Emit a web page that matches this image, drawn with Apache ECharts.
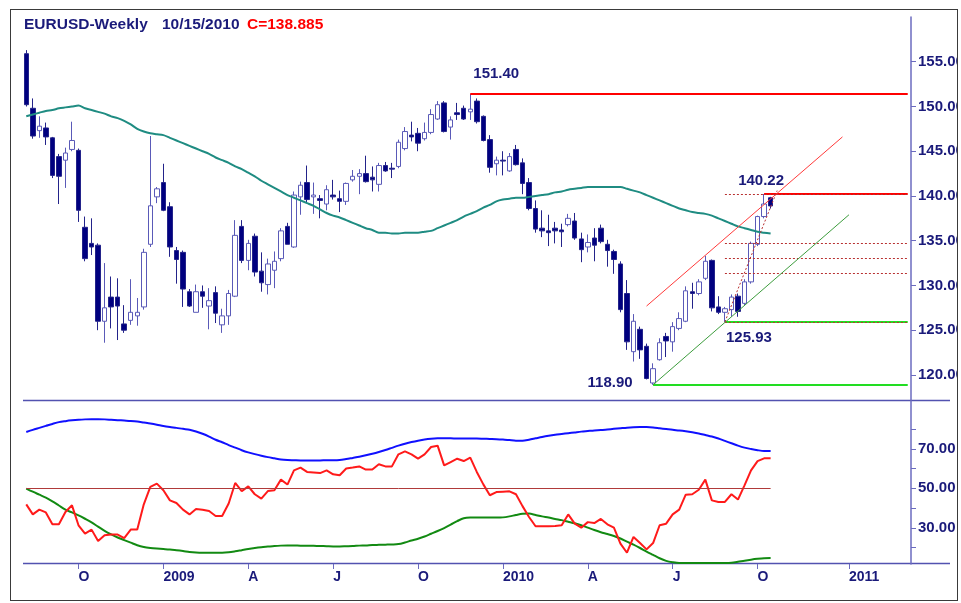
<!DOCTYPE html>
<html>
<head>
<meta charset="utf-8">
<script src="https://cdn.jsdelivr.net/npm/echarts@6/dist/echarts.min.js"></script>
<style>
  html, body { margin: 0; padding: 0; background: #fff; }
  #chart { position: absolute; left: 10px; top: 9px; width: 946px; height: 590px; border: 1px solid #3a3a3a; }
</style>
</head>
<body>
<div id="chart"></div>
<script>
// weekly bars, first one is the week ending 2008-08-08
const FIRST_WEEK = '2008-08-08';
const N_WEEKS = 136; // 115 bars + empty weeks up to the right axis

const OPEN = [155.9,149.8,147.3,147.6,146.5,144.4,144.0,145.2,145.1,136.5,134.7,134.5,126.0,128.7,128.7,125.7,126.1,126.6,127.6,134.6,
  139.9,141.5,138.8,133.9,133.7,129.3,127.0,129.3,127.7,129.2,125.6,126.6,128.8,136.6,132.8,135.5,131.6,130.1,131.7,133.0,
  136.6,134.3,139.9,141.5,139.9,139.7,139.1,140.1,139.7,139.4,141.8,142.2,142.5,142.1,141.3,143.4,143.1,143.3,145.3,146.8,
  147.0,146.4,147.1,148.6,150.4,147.7,149.3,149.8,149.4,150.6,148.9,146.3,143.6,144.0,142.8,145.2,143.7,141.5,138.6,136.4,
  136.1,136.4,136.2,136.8,137.2,135.2,134.3,135.3,136.4,134.6,133.8,132.4,129.1,122.6,125.1,123.2,119.1,121.7,124.3,123.7,
  125.2,126.0,129.3,129.1,130.8,132.8,127.6,127.0,127.3,128.8,128.0,130.4,134.6,137.7,139.8];
const HIGH = [156.3,150.9,148.9,148.2,146.6,144.7,145.4,148.3,145.3,137.7,137.5,134.7,132.5,131.0,130.8,127.8,130.7,128.6,134.1,146.7,
  141.0,143.6,139.3,134.3,133.9,129.6,130.1,130.0,129.7,129.9,127.4,129.5,137.3,137.3,135.1,135.8,133.7,133.0,133.8,136.4,
  137.0,140.5,141.6,143.4,141.5,140.1,141.2,141.8,140.6,141.5,142.9,143.0,144.5,143.3,143.7,143.8,143.7,146.3,147.7,148.3,
  147.6,148.2,149.7,150.6,150.6,148.9,150.4,150.1,151.4,150.9,149.0,146.8,144.4,145.0,144.8,145.7,144.2,142.0,139.5,138.4,
  137.9,137.1,136.9,138.0,138.1,135.9,135.7,136.4,136.8,135.1,134.0,132.7,130.6,126.8,125.4,123.5,121.3,124.1,124.7,125.9,
  127.0,129.9,130.3,130.7,133.3,132.9,128.8,127.6,129.0,129.1,130.7,134.9,137.8,140.22,139.9];
const LOW = [150.0,146.4,146.5,145.7,142.0,139.1,140.9,145.0,137.1,132.7,133.4,125.0,123.6,125.2,123.9,124.7,125.6,125.5,127.3,134.3,
  139.2,138.3,133.2,130.2,127.6,127.6,127.0,127.5,125.1,125.8,124.7,125.6,128.7,132.5,131.7,131.0,129.3,129.0,129.7,132.7,
  134.6,134.2,137.9,139.3,138.0,137.5,138.4,139.6,138.2,139.0,141.6,140.2,141.5,140.5,140.5,142.7,142.0,143.1,145.1,146.1,
  145.0,146.2,146.9,148.5,147.1,146.3,148.5,148.5,148.5,148.1,146.1,142.6,142.3,142.3,142.7,143.4,140.2,138.4,135.9,135.4,
  134.4,134.7,134.3,136.6,135.1,132.6,133.7,132.7,134.7,132.1,131.3,127.0,122.8,121.5,121.8,119.5,118.9,121.6,122.0,122.6,
  125.0,125.9,127.4,128.9,130.6,127.1,126.8,125.93,126.5,126.5,127.8,130.2,134.4,137.5,138.6];
const CLOSE = [150.2,146.7,147.8,146.6,142.3,142.2,144.8,146.2,138.4,133.0,134.3,126.0,127.5,127.6,127.7,125.0,127.0,127.0,133.7,138.9,
  140.8,138.4,134.3,132.9,129.6,127.7,129.3,128.8,128.3,126.9,126.6,129.1,135.6,132.8,134.7,131.5,130.3,132.4,132.7,136.1,
  134.6,140.1,141.2,139.6,140.1,139.5,140.7,139.9,139.4,141.4,142.2,142.5,141.6,141.8,143.4,142.8,143.0,146.0,147.2,146.6,
  145.9,147.1,149.1,150.2,147.2,148.5,149.1,148.6,149.7,148.3,146.2,143.2,144.0,143.9,144.4,143.5,141.4,138.6,136.3,136.1,
  135.9,136.1,136.0,137.5,135.3,134.0,134.8,134.5,134.9,133.9,132.9,127.3,123.7,126.0,122.8,119.6,120.7,123.6,123.8,125.4,
  126.3,129.4,129.1,130.4,132.7,127.5,127.0,127.4,128.7,127.1,130.4,134.7,137.7,139.1,138.885];

// moving average drawn over the price
const MA = [148.9,149.1,149.3,149.5,149.6,149.8,149.9,150.0,150.1,149.8,149.6,149.4,149.2,148.9,148.7,148.4,148.0,147.5,147.2,147.0,
  146.9,146.8,146.5,146.2,145.9,145.6,145.3,145.0,144.7,144.3,144.0,143.7,143.3,143.0,142.6,142.2,141.7,141.3,140.9,140.5,
  140.1,139.8,139.5,139.2,138.9,138.5,138.1,137.8,137.6,137.3,137.0,136.7,136.4,136.2,135.9,135.9,135.8,135.8,135.9,135.9,
  135.9,136.0,136.1,136.4,136.7,137.0,137.3,137.7,138.0,138.3,138.7,139.0,139.4,139.6,139.7,139.8,139.8,139.9,140.0,140.1,
  140.2,140.4,140.5,140.7,140.8,140.9,141.0,141.0,141.0,141.0,141.0,141.0,140.8,140.6,140.4,140.1,139.8,139.5,139.2,138.9,
  138.6,138.4,138.2,138.1,138.0,137.8,137.5,137.2,136.9,136.6,136.4,136.2,136.0,135.9,135.8];

// lower panel
const BLUE = [78.5,79.6,80.6,81.6,82.6,83.5,84.0,84.4,84.7,84.9,85.0,85.0,84.9,84.7,84.5,84.3,84.1,83.8,83.3,82.8,
  82.2,81.5,81.0,80.6,80.1,79.7,78.8,77.6,76.2,74.6,73.3,71.9,70.6,69.3,68.2,67.3,66.5,65.8,65.2,64.6,
  64.3,64.2,64.1,64.1,64.1,64.1,64.2,64.2,64.3,64.8,65.4,66.0,66.7,67.5,68.4,69.4,70.5,71.6,72.6,73.4,
  74.1,74.7,75.1,75.3,75.3,75.3,75.2,75.2,75.2,75.2,75.1,75.0,74.9,74.7,74.4,74.1,74.1,74.6,75.3,76.0,
  76.6,77.1,77.5,77.9,78.3,78.7,79.0,79.3,79.5,79.8,80.1,80.4,80.7,80.9,81.0,81.0,80.8,80.4,80.0,79.6,
  79.3,78.9,78.4,77.8,77.0,76.2,75.2,74.0,72.8,71.6,70.6,69.9,69.3,68.9,68.9];
const RED = [41.9,36.8,39.2,37.8,31.8,31.8,38.0,41.4,31.3,27.1,29.1,23.3,26.2,26.6,26.6,24.8,29.1,29.1,41.9,50.7,
  52.4,49.0,43.9,42.6,39.2,36.8,39.5,39.2,38.5,36.0,36.0,42.3,52.7,48.6,51.0,47.0,44.8,48.6,49.0,54.4,
  51.9,59.1,60.5,58.3,58.0,57.7,59.1,57.1,56.6,60.0,60.5,61.1,59.5,59.5,62.2,61.1,61.1,67.2,68.7,67.2,
  65.0,67.2,70.9,71.6,61.6,63.3,65.0,63.8,65.5,58.3,52.0,46.5,48.1,48.3,48.5,47.0,41.0,35.5,30.8,30.8,
  30.8,30.9,31.3,36.8,32.1,30.1,32.9,32.4,34.5,31.8,30.1,22.0,17.4,25.4,22.3,19.1,22.3,31.3,32.1,36.8,
  39.2,46.8,47.0,49.3,54.4,43.9,43.1,43.1,47.0,44.3,51.5,59.1,63.8,65.2,65.2];
const GREEN = [49.9,48.3,46.8,45.3,43.4,41.3,39.2,37.8,36.3,34.6,32.8,30.6,28.5,26.7,25.1,23.8,22.5,21.2,20.3,19.8,
  19.5,19.3,19.0,18.7,18.3,17.8,17.5,17.4,17.4,17.4,17.4,17.6,18.1,18.7,19.3,19.8,20.2,20.5,20.8,21.0,
  21.1,21.1,21.0,21.0,20.9,20.8,20.7,20.6,20.6,20.7,20.8,21.0,21.1,21.3,21.4,21.5,21.6,21.8,22.6,23.6,
  24.5,25.6,27.0,28.4,29.9,31.6,33.4,34.9,35.2,35.2,35.2,35.2,35.2,35.3,35.8,36.5,37.1,37.2,36.5,35.8,
  35.2,34.5,33.9,33.1,32.3,31.3,30.1,28.9,27.8,26.9,25.9,24.6,23.0,21.5,19.8,18.0,16.3,14.6,13.3,12.6,
  12.2,12.2,12.2,12.2,12.2,12.2,12.2,12.2,12.3,12.8,13.4,13.9,14.3,14.6,14.7];
const MID_LEVEL = 50;

// swing points: bar index and price
const HIGH_BAR = 68, HIGH_PRICE = 151.40;
const LOW_BAR = 96, LOW_PRICE = 118.90;
const PIVOT_BAR = 107, PIVOT_PRICE = 125.93;
const TOP_BAR = 113, TOP_PRICE = 140.22;
const FIB_LEVELS = [140.22, 134.76, 133.08, 131.39, 125.93];
// channel lines [bar, price, bar, price]
const UPPER_CHANNEL = [95, 127.7, 125, 146.6];
const LOWER_CHANNEL = [96, 118.9, 126, 137.9];
const STEEP_TREND = [107, 125.93, 115, 140.6];

const PRICE_TICKS = [120, 125, 130, 135, 140, 145, 150, 155];
const OSC_TICKS = [20, 30, 40, 50, 60, 70, 80];
const OSC_LABELS = [30, 50, 70];
const TICK_DATES = ['2008-10-03','2009-01-02','2009-04-03','2009-07-03','2009-10-02','2010-01-01','2010-04-02','2010-07-02','2010-10-01','2011-01-07'];
const TICK_LABELS = ['O','2009','A','J','O','2010','A','J','O','2011'];

const DATES = [];
{
  const t0 = Date.parse(FIRST_WEEK + 'T00:00:00Z');
  for (let i = 0; i < N_WEEKS; i++) {
    DATES.push(new Date(t0 + i * 7 * 86400000).toISOString().slice(0, 10));
  }
}
const LAST = DATES[N_WEEKS - 1];
const candles = OPEN.map((o, i) => [o, CLOSE[i], LOW[i], HIGH[i]]);

const NAVY = '#1a1a7a';
const AXIS = '#6b6bbf';
const FONT = 'Arial, "Liberation Sans", sans-serif';

const seg = (a, b, style) => [{ coord: a, lineStyle: style }, { coord: b }];
const solid = (color, width) => ({ color, width, type: 'solid' });
const dotted = { color: '#b83030', width: 1, type: [2, 2] };

const levelLines = [
  seg([DATES[PIVOT_BAR], PIVOT_PRICE], [LAST, PIVOT_PRICE], solid('#22dd22', 2)),
  seg([DATES[LOW_BAR], LOW_PRICE], [LAST, LOW_PRICE], solid('#22dd22', 2)),
  seg([DATES[HIGH_BAR], HIGH_PRICE], [LAST, HIGH_PRICE], solid('#ff0000', 2)),
  seg([DATES[TOP_BAR], TOP_PRICE], [LAST, TOP_PRICE], solid('#ff0000', 2)),
  ...FIB_LEVELS.map(v => seg([DATES[PIVOT_BAR], v], [LAST, v], dotted)),
  seg([DATES[UPPER_CHANNEL[0]], UPPER_CHANNEL[1]], [DATES[UPPER_CHANNEL[2]], UPPER_CHANNEL[3]], solid('#ff3a3a', 1)),
  seg([DATES[LOWER_CHANNEL[0]], LOWER_CHANNEL[1]], [DATES[LOWER_CHANNEL[2]], LOWER_CHANNEL[3]], solid('#3d9d3d', 1)),
  seg([DATES[STEEP_TREND[0]], STEEP_TREND[1]], [DATES[STEEP_TREND[2]], STEEP_TREND[3]], dotted),
];

const priceLabel = (bar, price, offset) => ({
  coord: [DATES[bar], price],
  value: price.toFixed(2),
  label: { offset },
});

const chart = echarts.init(document.getElementById('chart'), null, { renderer: 'canvas' });

chart.setOption({
  animation: false,
  backgroundColor: '#fff',
  textStyle: { fontFamily: FONT },
  grid: [
    { left: 12, top: 7, width: 888, height: 383, containLabel: false, outerBoundsMode: 'none' },
    { left: 12, top: 391, width: 888, height: 163, containLabel: false, outerBoundsMode: 'none' },
  ],
  xAxis: [
    { type: 'category', gridIndex: 0, data: DATES, boundaryGap: true, show: false },
    {
      type: 'category', gridIndex: 1, data: DATES, boundaryGap: true,
      axisLine: { show: false },
      axisTick: {
        show: true, alignWithLabel: true, length: 5,
        interval: (i, v) => TICK_DATES.includes(v),
        lineStyle: { color: AXIS, width: 1 },
      },
      axisLabel: {
        interval: (i, v) => TICK_DATES.includes(v),
        formatter: v => TICK_LABELS[TICK_DATES.indexOf(v)] || '',
        align: 'left', margin: 6, color: NAVY, fontSize: 14, fontWeight: 'bold',
      },
      splitLine: { show: false },
    },
  ],
  yAxis: [
    {
      type: 'value', gridIndex: 0, position: 'right', min: 117.2, max: 160,
      axisLine: { show: true, lineStyle: { color: AXIS, width: 1.5 } },
      axisTick: { show: true, length: 5, customValues: PRICE_TICKS, lineStyle: { color: AXIS } },
      axisLabel: { customValues: PRICE_TICKS, formatter: v => v.toFixed(2), color: NAVY, fontSize: 15, fontWeight: 'bold', margin: 7 },
      splitLine: { show: false },
    },
    {
      type: 'value', gridIndex: 1, position: 'right', min: 11.7, max: 94.2,
      axisLine: { show: true, lineStyle: { color: AXIS, width: 1.5 } },
      axisTick: { show: true, length: 5, customValues: OSC_TICKS, lineStyle: { color: AXIS } },
      axisLabel: { customValues: OSC_LABELS, formatter: v => v.toFixed(2), color: NAVY, fontSize: 15, fontWeight: 'bold', margin: 7 },
      splitLine: { show: false },
    },
  ],
  graphic: [
    { type: 'line', shape: { x1: 12, y1: 390.5, x2: 939, y2: 390.5 }, style: { stroke: '#5252b0', lineWidth: 1.5 }, silent: true },
    { type: 'line', shape: { x1: 12, y1: 553.5, x2: 939, y2: 553.5 }, style: { stroke: '#5252b0', lineWidth: 1.5 }, silent: true },
    { type: 'text', left: 13, top: 7, style: { text: 'EURUSD-Weekly', fill: NAVY, font: 'bold 15.5px ' + FONT } },
    { type: 'text', left: 151, top: 7, style: { text: '10/15/2010', fill: NAVY, font: 'bold 15.5px ' + FONT } },
    { type: 'text', left: 236, top: 7, style: { text: 'C=138.885', fill: '#ff0000', font: 'bold 15.5px ' + FONT } },
  ],
  series: [
    {
      type: 'candlestick', xAxisIndex: 0, yAxisIndex: 0, data: candles, barWidth: 5,
      itemStyle: { color: '#ffffff', color0: '#00007f', borderColor: '#5a5ab8', borderColor0: '#23238a', borderWidth: 1 },
      markLine: { silent: true, symbol: ['none', 'none'], label: { show: false }, data: levelLines },
      markPoint: {
        silent: true, symbol: 'rect', symbolSize: 1, itemStyle: { color: 'rgba(0,0,0,0)' },
        label: { show: true, position: 'inside', color: NAVY, fontSize: 15, fontWeight: 'bold', fontFamily: FONT, formatter: p => p.value },
        data: [
          priceLabel(HIGH_BAR, HIGH_PRICE, [26, -20]),
          priceLabel(TOP_BAR, TOP_PRICE, [-3, -13]),
          priceLabel(PIVOT_BAR, PIVOT_PRICE, [24, 16]),
          priceLabel(LOW_BAR, LOW_PRICE, [-43, -2]),
        ],
      },
    },
    {
      type: 'line', xAxisIndex: 0, yAxisIndex: 0, data: MA, symbol: 'none', smooth: 0.3,
      lineStyle: { color: '#1f8c82', width: 2 },
    },
    {
      type: 'line', xAxisIndex: 1, yAxisIndex: 1, data: BLUE, symbol: 'none', smooth: 0.3,
      lineStyle: { color: '#1010ff', width: 2 },
    },
    {
      type: 'line', xAxisIndex: 1, yAxisIndex: 1, data: GREEN, symbol: 'none', smooth: 0.3,
      lineStyle: { color: '#128a12', width: 2 },
    },
    {
      type: 'line', xAxisIndex: 1, yAxisIndex: 1, data: RED, symbol: 'none',
      lineStyle: { color: '#ff1a1a', width: 2 },
      markLine: {
        silent: true, symbol: ['none', 'none'], label: { show: false },
        data: [seg([DATES[0], MID_LEVEL], [DATES[CLOSE.length - 1], MID_LEVEL], solid('#b03a3a', 1))],
      },
    },
  ],
});
</script>
</body>
</html>
